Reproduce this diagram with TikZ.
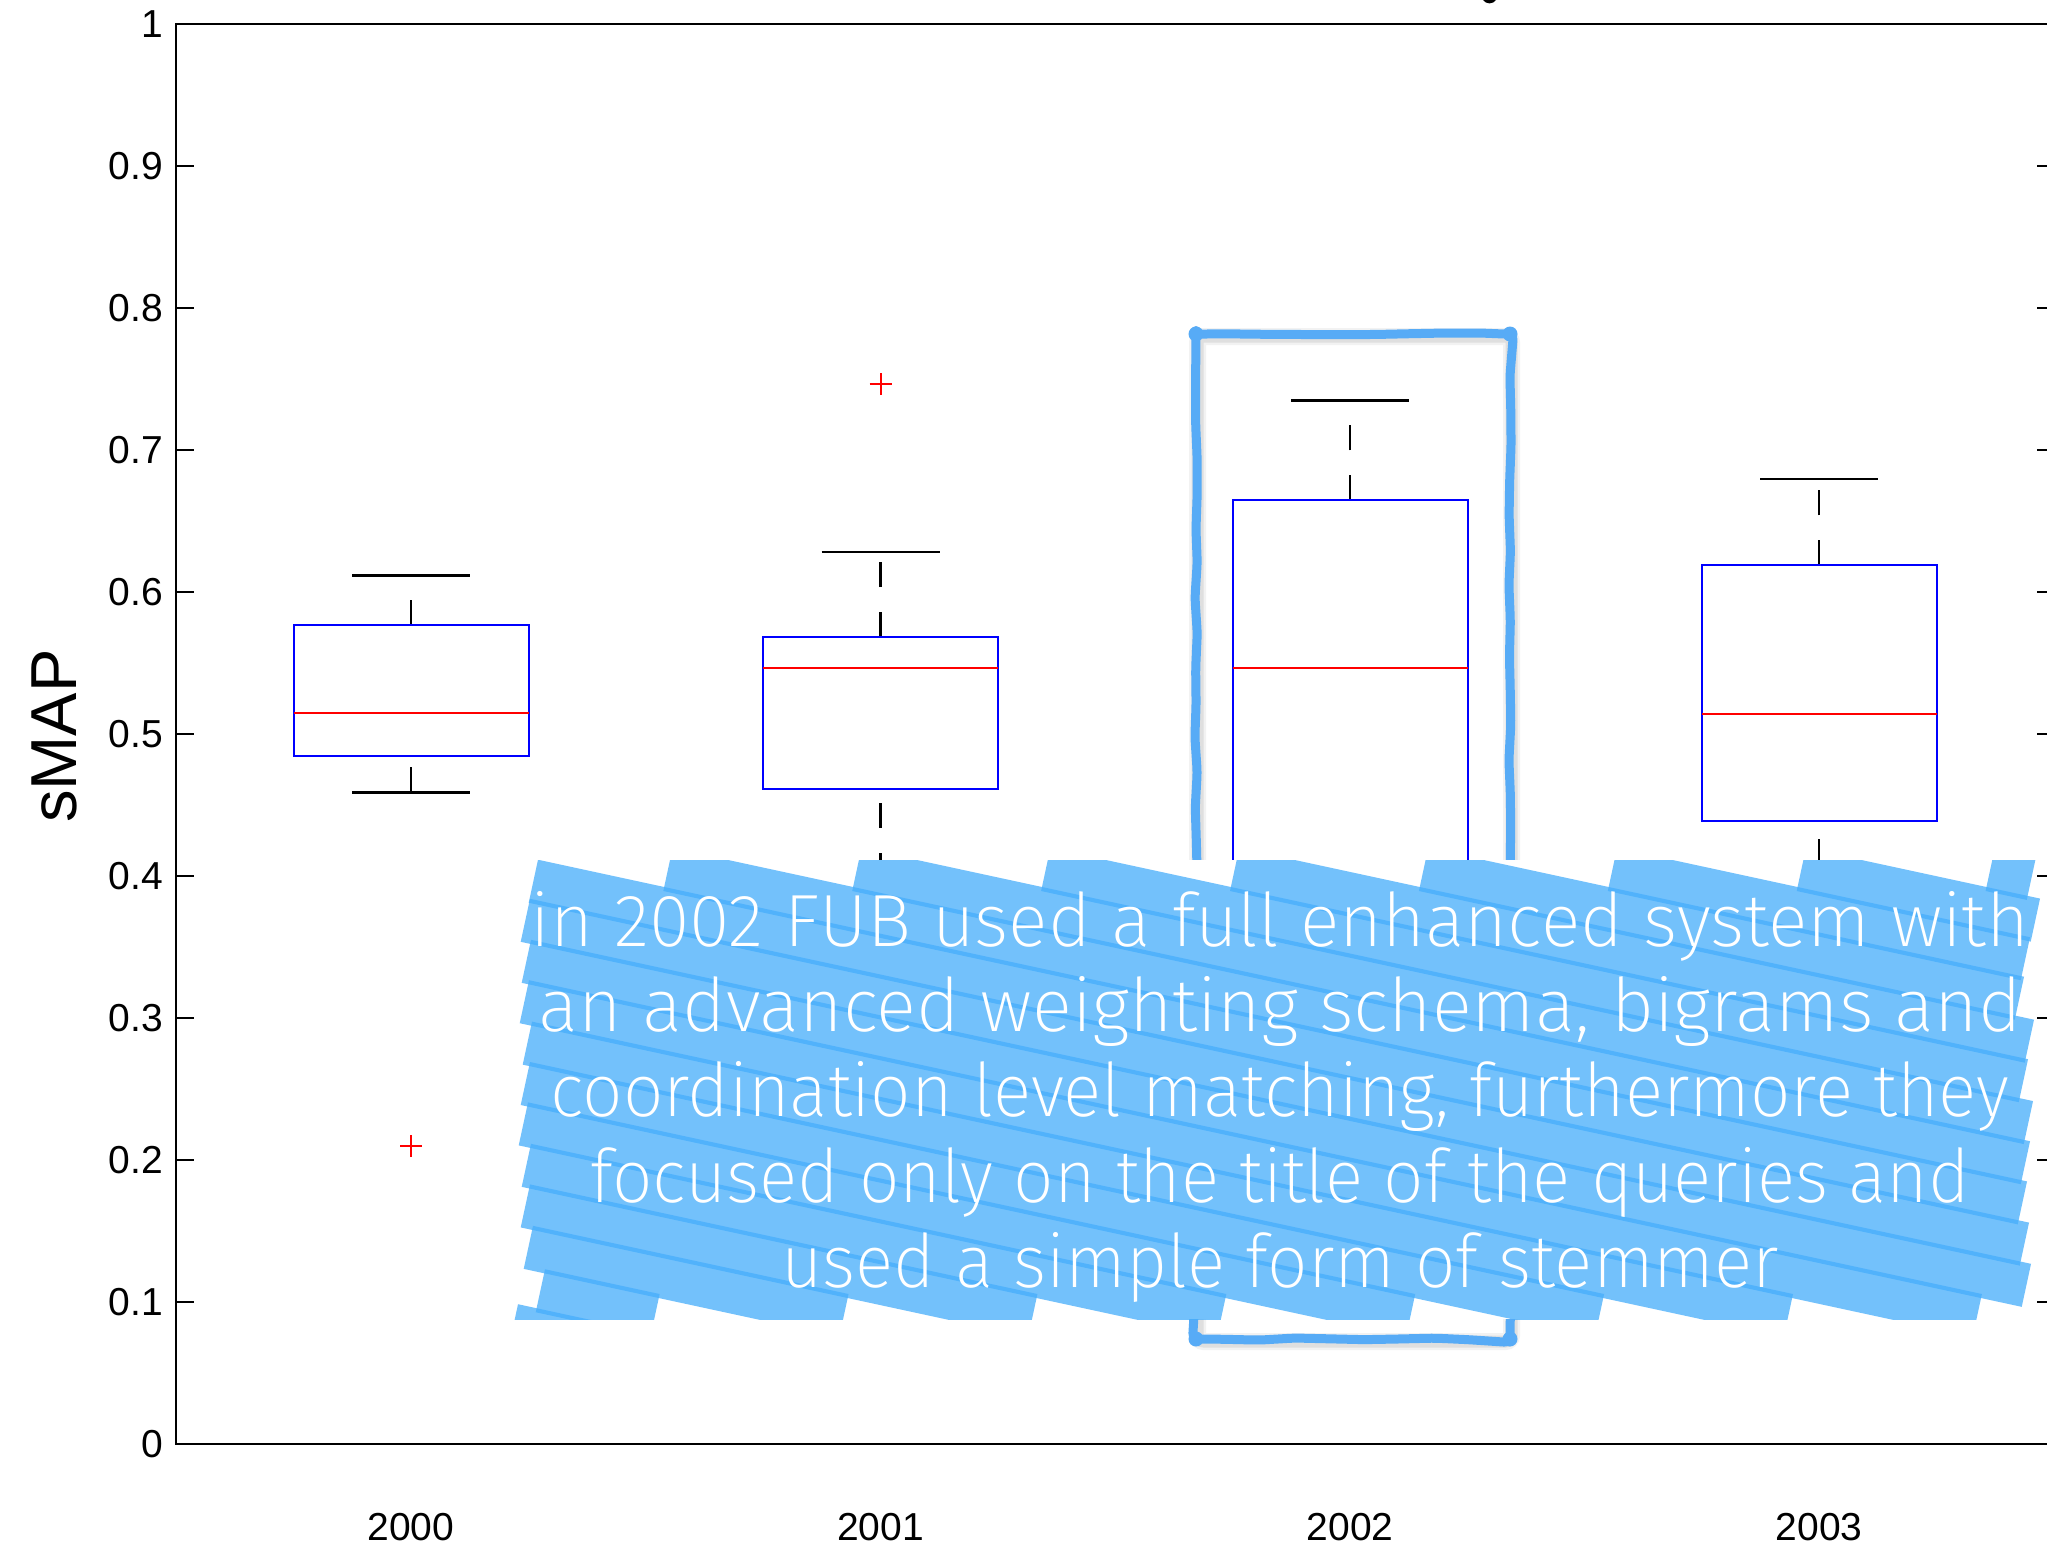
\documentclass[tikz,border=0pt]{standalone}
\usepackage{fontspec}
\setmainfont{Liberation Sans}
\newfontfamily\notefont{Fira Sans ExtraLight}[FakeStretch=0.965]
\usetikzlibrary{decorations.pathmorphing}

\definecolor{boxblue}{RGB}{0,0,255}
\definecolor{medred}{RGB}{255,0,0}
\definecolor{hlblue}{RGB}{71,174,251}
\definecolor{markblue}{RGB}{87,171,246}

\begin{document}
\begin{tikzpicture}[x=1pt,y=-1pt,
  axisline/.style={black,line width=2.5pt},
  tickline/.style={black,line width=2.5pt},
  ticklabel/.style={inner sep=0pt,font=\fontsize{39}{44}\selectfont},
  ylab/.style={inner sep=0pt,font=\fontsize{65}{70}\selectfont,rotate=90},
  boxedge/.style={draw=boxblue,line width=2pt},
  medline/.style={medred,line width=2pt},
  whisk/.style={black,line width=2.5pt,dash pattern=on 25pt off 25pt},
  capline/.style={black,line width=2.5pt},
  outlier/.style={medred,line width=2pt},
  band/.style={draw=hlblue,draw opacity=0.755,line width=44pt,line cap=butt},
  markframe/.style={draw=markblue,line width=9pt,line join=round,line cap=round},
  notetext/.style={inner sep=0pt,text=white,font=\notefont\fontsize{74}{85}\selectfont}
]
\useasboundingbox (0,0) rectangle (2047,1545);
\clip (0,0) rectangle (2047,1545);
\fill[white] (0,0) rectangle (2047,1545);

% descender of the title line above the frame
\fill[black] (1483,0) .. controls (1486,4.5) and (1493,4.5) .. (1496,0) -- cycle;

% axes frame
\draw[axisline] (2055,24) -- (176,24) -- (176,1444) -- (2055,1444) -- cycle;

% y ticks and labels
\foreach \v in {1,...,9} {
  \draw[tickline] (176,{1444-142*\v}) -- (194,{1444-142*\v});
  \draw[tickline] (2037,{1444-142*\v}) -- (2055,{1444-142*\v});
}
\foreach \v/\t in {0/0,1/0.1,2/0.2,3/0.3,4/0.4,5/0.5,6/0.6,7/0.7,8/0.8,9/0.9,10/1} {
  \node[ticklabel,anchor=east] (ytick\v) at (163,{1444-142*\v}) {\t};
}
\node[ylab] (ylabel) at (54,736) {sMAP};

% x labels
\foreach \x/\t in {411/2000,880.5/2001,1350/2002,1819/2003} {
  \node[ticklabel] (xtick\t) at (\x,1527) {\t};
}

% box plots: x / upper cap / q3 / median / q1 / lower cap
\foreach \x/\hi/\qt/\md/\qo/\lo in {
    411/0.6115/0.5765/0.515/0.4846/0.4589,
    880.5/0.628/0.5682/0.5462/0.461/0.3282,
    1350/0.735/0.6645/0.5462/0.38/0.10,
    1819/0.6795/0.6188/0.514/0.4386/0.3377} {
  \coordinate (top) at (\x,{1444-1420*\qt});
  \coordinate (bot) at (\x,{1444-1420*\qo});
  \coordinate (hic) at (\x,{1444-1420*\hi});
  \coordinate (loc) at (\x,{1444-1420*\lo});
  \draw[whisk] (top) -- (hic);
  \draw[whisk] (loc) -- (bot);
  \draw[capline] ([xshift=-59pt]hic) -- ([xshift=59pt]hic);
  \draw[capline] ([xshift=-59pt]loc) -- ([xshift=59pt]loc);
  \draw[boxedge] ([xshift=-117.5pt]top) rectangle ([xshift=117.5pt]bot);
  \draw[medline] ({\x-117.5},{1444-1420*\md}) -- ({\x+117.5},{1444-1420*\md});
}

% outliers
\foreach \x/\v in {411/0.2097,880.5/0.7466} {
  \coordinate (o) at (\x,{1444-1420*\v});
  \draw[outlier] ([xshift=-11pt]o) -- ([xshift=11pt]o);
  \draw[outlier] ([yshift=-11pt]o) -- ([yshift=11pt]o);
}

% hand-drawn frame around the 2002 box
\pgfmathsetseed{11}
\begin{scope}[shift={(1.5,2.5)}]
  \draw[black,opacity=0.05,line width=17pt,rounded corners=6pt]
    (1196,334) rectangle (1510,1339);
  \draw[black,opacity=0.08,line width=12pt,rounded corners=6pt]
    (1196,334) rectangle (1510,1339);
\end{scope}
\draw[markframe,decorate,decoration={random steps,segment length=35pt,amplitude=1.3pt},rounded corners=6pt]
  (1196,334) -- (1510,334) -- (1510,1339) -- (1196,1339) -- cycle;
\foreach \p in {(1196,334),(1510,334),(1510,1339),(1196,1339)}
  \fill[markblue] \p circle (7.5pt);

% highlighter block behind the note
\fill[white] (518,860) rectangle (2036,1319);
\begin{scope}
  \clip (0,860) rectangle (2047,1319);
  \foreach \k in {-8,...,11} {
    \pgfmathsetmacro{\Y}{858+40.8*\k}
    \pgfmathsetmacro{\jit}{{8,0,1,-1,2,0,-2,1,0,3,15,-12}[max(\k,0)]}
    \pgfmathsetmacro{\rx}{{2036,2040,2030,2024,2034,2028,2033,2030,2027,2029,2031,2030,2030,2030,2030,2030,2030,2030,2030,2030}[\k+8]}
    \pgfmathsetmacro{\xs}{\k<0 ? 530+(848-\Y)/0.216 : 530+\jit}
    \pgfmathsetmacro{\xe}{min(\rx,max(530+(1294-\Y)/0.216,\xs+90))}
    \pgfmathsetmacro{\ys}{\Y+0.216*(\xs-530)}
    \pgfmathsetmacro{\ye}{\Y+0.216*(\xe-530)}
    \draw[band] ({\xs-4.64},{\ys+21.5}) -- ({\xe-4.64},{\ye+21.5});
  }
\end{scope}

% note text
\node[notetext,anchor=base] (note1) at (1280,946) {\scalebox{1.032}[1]{in 2002 FUB used a full enhanced system with}};
\node[notetext,anchor=base] (note2) at (1280,1031) {\scalebox{1.045}[1]{an advanced weighting schema, bigrams and}};
\node[notetext,anchor=base] (note3) at (1280,1116) {coordination level matching, furthermore they};
\node[notetext,anchor=base] (note4) at (1280,1202) {focused only on the title of the queries and};
\node[notetext,anchor=base] (note5) at (1280,1287) {used a simple form of stemmer};
\end{tikzpicture}
\end{document}
